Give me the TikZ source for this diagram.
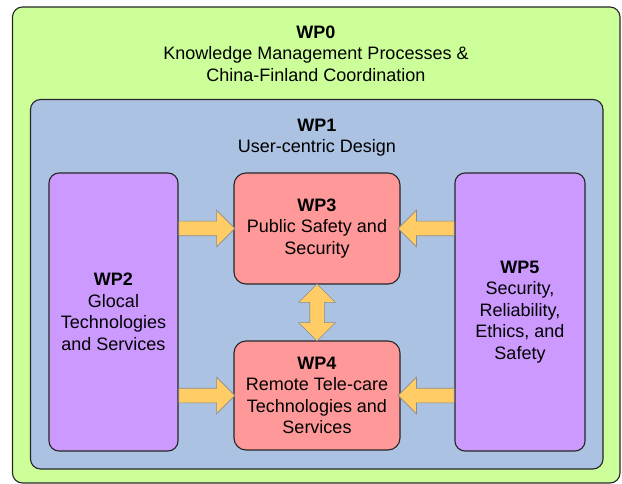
\documentclass[tikz,border=0pt]{standalone}
\usepackage{fontspec}
\setmainfont{Liberation Sans}
\usepackage{tikz}
\usetikzlibrary{positioning, calc, shapes.arrows}

\definecolor{wpgreen}{HTML}{CCFF99}
\definecolor{wpblue}{HTML}{ABC2E2}
\definecolor{wppurple}{HTML}{CC99FF}
\definecolor{wpred}{HTML}{FF9999}
\definecolor{wporange}{HTML}{FFCC66}

\begin{document}
\begin{tikzpicture}[
    x=1pt, y=-1pt,
    wp/.style={draw=black!85, line width=1.1pt, rounded corners=10pt, align=center, inner sep=0pt,
               font=\fontsize{18}{21.5}\selectfont},
    title/.style={align=center, inner sep=0pt, font=\fontsize{18}{21.5}\selectfont},
    fat/.style={single arrow, draw=black!45, fill=wporange, line width=0.6pt, inner xsep=0pt,
                inner ysep=7pt, single arrow head extend=11pt, minimum height=56pt},
    fatboth/.style={double arrow, draw=black!45, fill=wporange, line width=0.6pt, inner sep=7pt,
                    double arrow head extend=11pt, minimum height=57pt},
]
\useasboundingbox (0,0) rectangle (622,484);

% outer work packages
\node[wp, fill=wpgreen, minimum width=607.5pt, minimum height=476pt] (wp0) at (316.25,245) {};
\node[title] (wp0title) at (316,53.5) {\textbf{WP0}\\Knowledge Management Processes \&\\China-Finland Coordination};
\node[wp, fill=wpblue, minimum width=572.5pt, minimum height=369.5pt] (wp1) at (316.75,284.25) {};
\node[title] (wp1title) at (317,137.5) {\textbf{WP1}\\User-centric Design};

% inner work packages
\node[wp, fill=wppurple, minimum width=129pt, minimum height=278pt] (wp2) at (113.5,312)
    {\textbf{WP2}\\Glocal\\Technologies\\and Services};
\node[wp, fill=wppurple, minimum width=130pt, minimum height=278pt] (wp5) at (520,312)
    {\textbf{WP5}\\Security,\\Reliability,\\Ethics, and\\Safety};
\node[wp, fill=wpred, rounded corners=12pt, minimum width=166pt, minimum height=111pt] (wp3) at (317,228.5)
    {\textbf{WP3}\\Public Safety and\\Security};
\node[wp, fill=wpred, rounded corners=12pt, minimum width=166pt, minimum height=109pt] (wp4) at (317,395.5)
    {\textbf{WP4}\\Remote Tele-care\\Technologies and\\Services};

% fat arrows between packages
\node[fat, anchor=tail] (a23) at (wp2.east |- wp3) {};
\node[fat, anchor=tail] (a24) at (wp2.east |- wp4) {};
\node[fat, anchor=tail, shape border rotate=180] (a53) at (wp5.west |- wp3) {};
\node[fat, anchor=tail, shape border rotate=180] (a54) at (wp5.west |- wp4) {};
\node[fatboth, shape border rotate=90] (a34) at ($(wp3.south)!.5!(wp4.north)$) {};
\end{tikzpicture}
\end{document}
